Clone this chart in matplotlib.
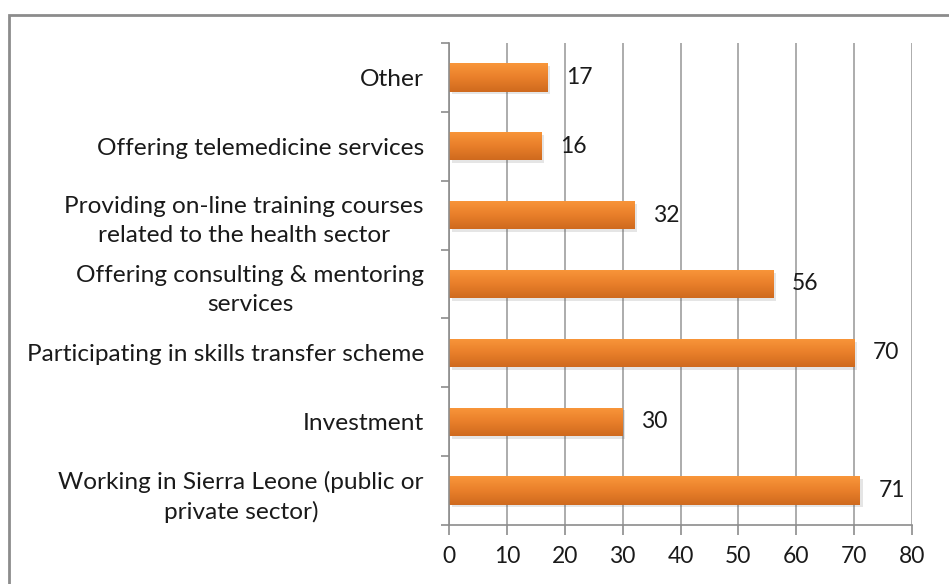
import numpy as np
from matplotlib import pyplot as plt
from matplotlib import patches as mpatches
from matplotlib import patheffects as pe
from matplotlib.colors import LinearSegmentedColormap

plt.rcParams["font.family"] = ["Lato", "DejaVu Sans"]

categories = [
    "Working in Sierra Leone (public or\nprivate sector)",
    "Investment",
    "Participating in skills transfer scheme",
    "Offering consulting & mentoring\nservices",
    "Providing on-line training courses\nrelated to the health sector",
    "Offering telemedicine services",
    "Other",
]
values = [71, 30, 70, 56, 32, 16, 17]
xticks = [0, 10, 20, 30, 40, 50, 60, 70, 80]

fig = plt.figure(figsize=(9.49, 5.84), dpi=100)
# outer chart border (cut off at right / bottom like the source)
fig.patches.append(mpatches.Rectangle((9/949, -0.1), 1.0, 1 - 15/584 + 0.1,
                                      transform=fig.transFigure, fill=False,
                                      edgecolor="#8c8c8c", linewidth=2))

ax = fig.add_axes([449/949, 1 - 525/584, (912 - 449)/949, (525 - 43)/584])

ypos = np.arange(len(categories))
bars = ax.barh(ypos, values, height=0.41, color="#E87D28", zorder=2,
               path_effects=[pe.SimplePatchShadow(offset=(2, -2), alpha=0.15,
                                                  shadow_rgbFace="#555555"),
                             pe.Normal()])

grad = LinearSegmentedColormap.from_list("og", ["#CF6A1E", "#E97F2A", "#F9963A"])
g = np.linspace(0, 1, 64).reshape(-1, 1)
for b in bars:
    x0, y0, w, h = b.get_x(), b.get_y(), b.get_width(), b.get_height()
    im = ax.imshow(g, cmap=grad, origin="lower", aspect="auto",
                   extent=[x0, x0 + w, y0, y0 + h], zorder=2.1,
                   interpolation="bilinear")
    im.set_clip_path(b)

for b, v in zip(bars, values):
    ax.text(b.get_width() + 3.2, b.get_y() + b.get_height() / 2, str(v),
            va="center", ha="left", fontsize=16.5, color="#1a1a1a")

ax.set_xlim(0, 80)
ax.set_ylim(-0.5, len(categories) - 0.5)
ax.set_xticks(xticks)
ax.set_xticklabels([str(t) for t in xticks], fontsize=16.5, color="#1a1a1a")

# category labels at centers, tick marks at boundaries
ax.set_yticks(np.arange(len(categories) + 1) - 0.5)
ax.set_yticklabels([])
ax.set_yticks(ypos, minor=True)
ax.set_yticklabels(categories, minor=True, fontsize=17.6, color="#1a1a1a",
                   multialignment="center", linespacing=1.45)
ax.tick_params(axis="y", which="minor", length=0, pad=18)
ax.tick_params(axis="y", which="major", length=6, width=1.2, color="#8c8c8c",
               direction="out")
ax.tick_params(axis="x", length=7, width=1.2, color="#8c8c8c", direction="out",
               pad=8)

ax.grid(axis="x", color="#a6a6a6", linewidth=1.3)
ax.set_axisbelow(True)
for s in ["top", "right"]:
    ax.spines[s].set_visible(False)
for s in ["left", "bottom"]:
    ax.spines[s].set_color("#8c8c8c")
    ax.spines[s].set_linewidth(1.2)

plt.savefig("out.png", dpi=100)
